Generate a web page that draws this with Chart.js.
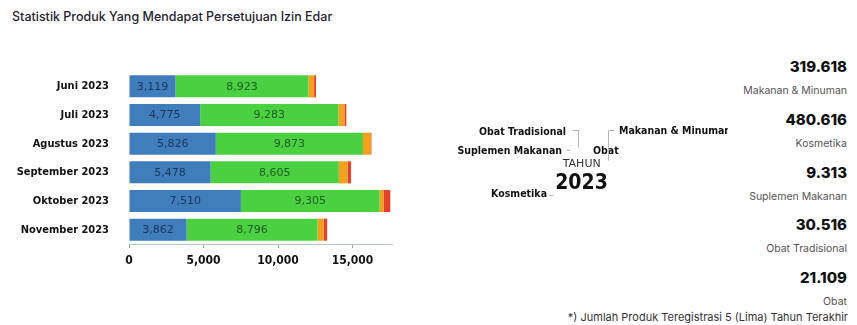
<!DOCTYPE html>
<html>
<head>
<meta charset="utf-8">
<script src="https://cdn.jsdelivr.net/npm/chart.js@4.4.1/dist/chart.umd.min.js"></script>
<style>
  html, body { margin: 0; padding: 0; background: #fff; }
  body { width: 857px; height: 325px; position: relative; overflow: hidden; font-family: Inter, "Noto Sans", sans-serif; }
  #title { position: absolute; left: 12px; top: 8px; font-size: 12.5px; font-weight: 500; color: #1f2430; line-height: 18px; }
  #bar-wrap { position: absolute; left: 0; top: 0; width: 430px; height: 280px; }
  #donut-wrap { position: absolute; left: 440px; top: 100px; width: 290px; height: 140px; }
  #stats { position: absolute; right: 10px; top: 55px; text-align: right; }
  .stat-num { font-size: 15px; font-weight: 800; color: #111; line-height: 24px; height: 24px; }
  .stat-label { font-size: 10.5px; color: #555; line-height: 24px; height: 24px; margin-bottom: 4.75px; }
  #note { position: absolute; right: 9px; top: 310px; font-size: 11px; color: #333; line-height: 14px; }
</style>
</head>
<body>
<div id="title">Statistik Produk Yang Mendapat Persetujuan Izin Edar</div>
<div id="bar-wrap"><canvas id="bar-chart"></canvas></div>
<div id="donut-wrap"><canvas id="donut-chart"></canvas></div>
<div id="stats"></div>
<div id="note">*) Jumlah Produk Teregistrasi 5 (Lima) Tahun Terakhir</div>

<script>
const months = ["Juni 2023", "Juli 2023", "Agustus 2023", "September 2023", "Oktober 2023", "November 2023"];
const blueValues = [3119, 4775, 5826, 5478, 7510, 3862];
const greenValues = [8923, 9283, 9873, 8605, 9305, 8796];
const orangeValues = [380, 400, 540, 590, 270, 410];
const redValues = [130, 130, 30, 230, 450, 230];
const xTicks = [0, 5000, 10000, 15000];

const categories = ["Makanan & Minuman", "Kosmetika", "Suplemen Makanan", "Obat Tradisional", "Obat"];
const categoryTotals = [319618, 480616, 9313, 30516, 21109];
const yearLabel = "2023";

const COND = '"DejaVu Sans Condensed", "DejaVu Sans", sans-serif';
const LABEL_COLORS = ["#1a355f", "#1d5c1f"];

Chart.defaults.font.family = COND;
Chart.defaults.color = "#111";

// value text centred inside the two large segments
const segmentLabels = {
  id: "segmentLabels",
  afterDatasetsDraw(chart) {
    const { ctx } = chart;
    ctx.save();
    ctx.font = '11px "DejaVu Sans", sans-serif';
    ctx.textAlign = "center";
    ctx.textBaseline = "middle";
    [0, 1].forEach((di) => {
      const ds = chart.data.datasets[di];
      chart.getDatasetMeta(di).data.forEach((bar, i) => {
        ctx.fillStyle = LABEL_COLORS[di];
        ctx.fillText(ds.data[i].toLocaleString("en-US"), (bar.x + bar.base) / 2, bar.y + 0.5);
      });
    });
    ctx.restore();
  }
};

new Chart(document.getElementById("bar-chart"), {
  type: "bar",
  data: {
    labels: months,
    datasets: [
      { label: "Makanan & Minuman", data: blueValues, backgroundColor: "#3f7dbb" },
      { label: "Kosmetika", data: greenValues, backgroundColor: "#4bd041" },
      { label: "Obat Tradisional", data: orangeValues, backgroundColor: "#f4a01e" },
      { label: "Obat", data: redValues, backgroundColor: "#e2412a" }
    ]
  },
  options: {
    indexAxis: "y",
    responsive: true,
    maintainAspectRatio: false,
    animation: false,
    barPercentage: 0.77,
    categoryPercentage: 1,
    layout: { padding: { top: 72, right: 38, left: 0, bottom: 0 } },
    scales: {
      x: {
        stacked: true,
        min: 0,
        max: 17650,
        afterBuildTicks: (scale) => {
          scale.ticks = xTicks.map((v) => ({ value: v }));
        },
        afterFit: (scale) => { scale.height = 36; },
        border: { display: true, color: "#b9c3cb" },
        grid: { display: true, drawOnChartArea: false, tickLength: 4, color: "#9aa3aa" },
        ticks: {
          padding: 6,
          font: { size: 12, weight: "bold" },
          color: "#111",
          callback: (v) => Number(v).toLocaleString("en-US")
        }
      },
      y: {
        stacked: true,
        afterFit: (scale) => { scale.width = 129; },
        border: { display: false },
        grid: { display: false },
        ticks: { padding: 12, font: { size: 11, weight: "bold" }, color: "#111" }
      }
    },
    plugins: { legend: { display: false }, tooltip: { enabled: false } }
  },
  plugins: [segmentLabels]
});

// callout labels and year text for the ring, placed from its centre
const ringText = {
  id: "ringText",
  afterDraw(chart) {
    const { ctx, chartArea } = chart;
    const cx = (chartArea.left + chartArea.right) / 2;
    const cy = (chartArea.top + chartArea.bottom) / 2;
    const callouts = [
      { text: categories[3], x: -19, y: -38, align: "right", line: [[-13, -40], [-7, -40], [-7, -23]] },
      { text: categories[2], x: -23, y: -19, align: "right", line: [[-19, -20], [-15, -20]] },
      { text: categories[4], x: 8, y: -19, align: "left", line: null },
      { text: categories[0], x: 34, y: -39, align: "left", line: [[29, -40], [23, -40], [23, -10]] },
      { text: categories[1], x: -38, y: 24, align: "right", line: [[-36, 25], [-32, 25]] }
    ];
    ctx.save();
    // long right-hand callout runs past the panel edge and gets cut
    ctx.beginPath();
    ctx.rect(0, 0, cx + 143, chart.height);
    ctx.clip();
    ctx.textBaseline = "middle";
    ctx.strokeStyle = "#b5b5b5";
    ctx.lineWidth = 1;
    callouts.forEach((c) => {
      if (c.line) {
        ctx.beginPath();
        c.line.forEach(([lx, ly], i) => {
          const px = Math.round(cx + lx) + 0.5;
          const py = Math.round(cy + ly) + 0.5;
          if (i === 0) ctx.moveTo(px, py); else ctx.lineTo(px, py);
        });
        ctx.stroke();
      }
      ctx.font = "bold 10.5px " + COND;
      ctx.fillStyle = "#111";
      ctx.textAlign = c.align;
      ctx.fillText(c.text, cx + c.x, cy + c.y);
    });
    ctx.textAlign = "center";
    ctx.font = '11px "DejaVu Sans", sans-serif';
    ctx.fillStyle = "#333";
    ctx.fillText("TAHUN", cx - 3.3, cy - 6);
    ctx.font = "bold 21px " + COND;
    ctx.fillStyle = "#111";
    ctx.fillText(yearLabel, cx - 3.5, cy + 14);
    ctx.restore();
  }
};

new Chart(document.getElementById("donut-chart"), {
  type: "doughnut",
  data: {
    labels: categories,
    datasets: [{ data: categoryTotals, backgroundColor: "rgba(0,0,0,0)", borderWidth: 0 }]
  },
  options: {
    responsive: true,
    maintainAspectRatio: false,
    animation: false,
    cutout: "70%",
    plugins: { legend: { display: false }, tooltip: { enabled: false } }
  },
  plugins: [ringText]
});

// totals column on the right
const statsEl = document.getElementById("stats");
categories.forEach((name, i) => {
  const num = document.createElement("div");
  num.className = "stat-num";
  num.textContent = categoryTotals[i].toLocaleString("de-DE");
  const label = document.createElement("div");
  label.className = "stat-label";
  label.textContent = name;
  statsEl.appendChild(num);
  statsEl.appendChild(label);
});
</script>
</body>
</html>
